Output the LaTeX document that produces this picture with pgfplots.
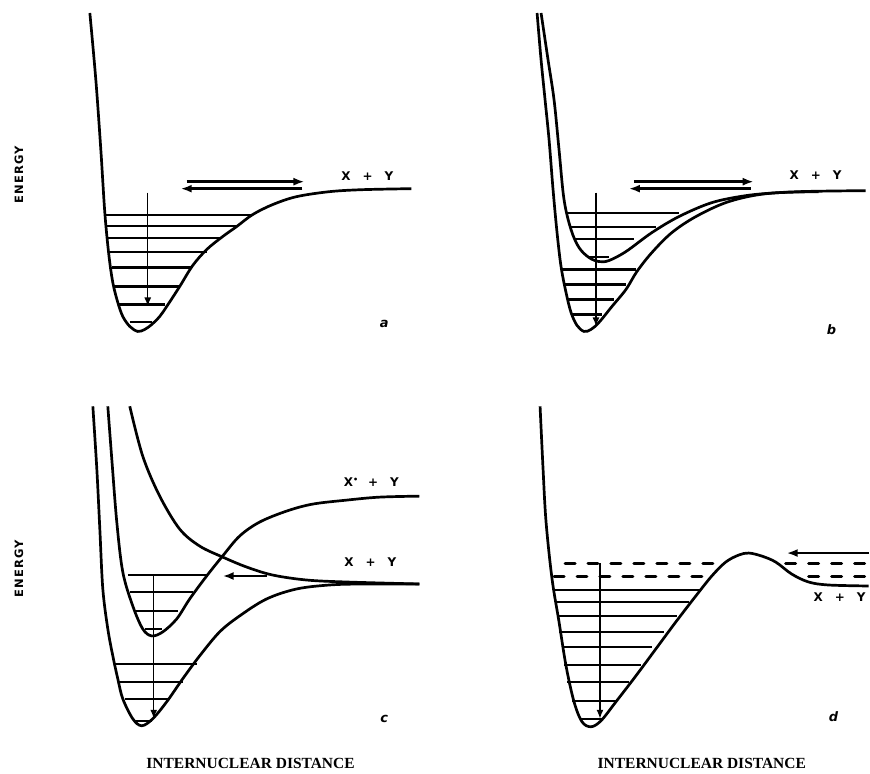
\documentclass[border=0pt]{standalone}
\usepackage{fontspec}
\setmainfont{DejaVu Sans}
\newfontfamily\serifb{Liberation Serif}
\usepackage{pgfplots}
\pgfplotsset{compat=1.18}
\usetikzlibrary{arrows.meta}
\tikzset{
  lab/.style={font=\bfseries\fontsize{12}{14}\selectfont},
  pan/.style={font=\bfseries\itshape\fontsize{13}{15}\selectfont},
  etitle/.style={rotate=90, font=\bfseries\fontsize{11.5}{13}\selectfont\addfontfeature{LetterSpace=10}},
  xtitle/.style={font=\serifb\bfseries\fontsize{15.5}{17}\selectfont},
}
\begin{document}
\begin{tikzpicture}
\begin{axis}[
  x=1pt, y=1pt, xmin=0, xmax=870, ymin=0, ymax=775,
  y dir=reverse, hide axis, clip=false, scale only axis,
  curve/.style={black, line width=2.7pt, smooth, tension=0.55, no marks},
  lev/.style={black, line width=2.1pt, no marks},
  dlev/.style={black, line width=3pt, no marks, line cap=round, dash pattern=on 10pt off 13pt},
  varr/.style={black, line width=1.5pt, no marks, -{Latex[length=9pt,width=7pt]}},
  harr/.style={black, line width=2.4pt, no marks, -{Latex[length=11pt,width=8pt]}},
]
\newcommand{\lev}[3]{\addplot[lev] coordinates {(#2,#1) (#3,#1)};}
\path (axis cs:0,0) rectangle (axis cs:870,775);

% ---------------- panel a ----------------
\addplot[curve] coordinates {(90,13) (96,80) (101,150) (105,213) (109,255) (113,283) (118,303) (123,317) (130,327) (138,332) (145,330) (152,325) (160,317) (167,307) (180,287) (193,266) (207,250) (223,237) (237,227) (253,215) (273,205) (297,197) (330,192) (363,190) (412,189)};
\lev{215}{106}{253}
\lev{226}{107}{237}
\lev{238}{108}{222}
\lev{252}{109}{207}
\lev{268}{112}{192}
\lev{287}{115}{180}
\lev{305}{118}{165}
\lev{323}{130}{152}
\addplot[varr] coordinates {(148,193) (148,307)};
\addplot[harr] coordinates {(187,182) (305,182)};
\addplot[harr] coordinates {(303,189) (181,189)};
\node[lab] at (axis cs:368,176) {X\hspace{1em}+\hspace{1em}Y};
\node[pan] at (axis cs:385,325) {a};

% ---------------- panel b ----------------
\addplot[curve] coordinates {(538,13) (542,60) (546,100) (550,140) (554,190) (558,233) (562,267) (567,293) (572,313) (578,326) (585,332) (592,330) (600,323) (613,307) (627,290) (638,272) (653,253) (673,233) (697,217) (727,203) (760,195) (800,192) (867,191)};
\addplot[curve] coordinates {(542,13) (549,60) (555,100) (560,150) (565,200) (572,230) (580,248) (590,258) (600,262) (610,261) (627,252) (653,233) (680,217) (713,203) (747,196) (780,193) (820,192)};
\lev{213}{568}{680}
\lev{227}{570}{657}
\lev{239}{575}{635}
\lev{257}{588}{610}
\lev{270}{563}{637}
\lev{285}{565}{627}
\lev{300}{568}{615}
\lev{315}{573}{603}
\addplot[varr] coordinates {(597,193) (597,327)};
\addplot[harr] coordinates {(635,182) (755,182)};
\addplot[harr] coordinates {(752,189) (630,189)};
\node[lab] at (axis cs:817,175) {X\hspace{1em}+\hspace{1em}Y};
\node[pan] at (axis cs:833,330) {b};

% ---------------- panel c ----------------
\addplot[curve] coordinates {(93,407) (97,470) (100,530) (103,590) (108,630) (113,657) (118,680) (123,700) (133,720) (142,727) (153,720) (167,703) (183,680) (200,657) (220,633) (240,617) (267,600) (297,590) (330,586) (363,585) (420,585)};
\addplot[curve] coordinates {(108,407) (112,460) (117,523) (123,573) (133,607) (143,630) (152,637) (163,633) (177,620) (190,600) (207,577) (223,557) (240,537) (260,523) (287,512) (313,505) (347,501) (380,498) (420,497)};
\addplot[curve] coordinates {(130,407) (143,457) (160,497) (180,530) (200,547) (223,558) (247,568) (273,576) (307,581) (347,583) (420,585)};
\lev{576}{128}{207}
\lev{593}{130}{193}
\lev{612}{135}{178}
\lev{630}{145}{162}
\lev{665}{115}{197}
\lev{683}{118}{183}
\lev{700}{125}{170}
\lev{722}{135}{152}
\addplot[varr] coordinates {(154,576) (154,720)};
\addplot[harr] coordinates {(267,577) (223,577)};
\node[lab] at (axis cs:372,483) {X\textsuperscript{\textbullet}\hspace{0.8em}+\hspace{1em}Y};
\node[lab] at (axis cs:371,563) {X\hspace{1em}+\hspace{1em}Y};
\node[pan] at (axis cs:385,720) {c};

% ---------------- panel d ----------------
\addplot[curve] coordinates {(541,407) (544,470) (547,523) (553,580) (560,623) (567,667) (575,703) (583,723) (592,728) (602,722) (617,703) (637,677) (657,650) (677,623) (697,597) (713,577) (727,563) (740,556) (750,554) (763,557) (777,563) (793,575) (810,583) (830,586) (870,587)};
\addplot[dlev] coordinates {(566,564) (722,564)};
\addplot[dlev] coordinates {(787,564) (870,564)};
\addplot[dlev] coordinates {(555,577) (710,577)};
\addplot[dlev] coordinates {(810,577) (870,577)};
\lev{591}{555}{702}
\lev{603}{557}{690}
\lev{617}{558}{678}
\lev{633}{560}{665}
\lev{648}{563}{653}
\lev{666}{565}{642}
\lev{683}{568}{630}
\lev{702}{573}{618}
\lev{720}{582}{603}
\addplot[varr] coordinates {(601,564) (601,720)};
\addplot[harr] coordinates {(870,554) (788,554)};
\node[lab] at (axis cs:841,598) {X\hspace{1em}+\hspace{1em}Y};
\node[pan] at (axis cs:835,718) {d};

% ---------------- axis titles ----------------
\node[etitle] at (axis cs:19,175) {ENERGY};
\node[etitle] at (axis cs:19,570) {ENERGY};
\node[xtitle] at (axis cs:251,765) {INTERNUCLEAR DISTANCE};
\node[xtitle] at (axis cs:703,765) {INTERNUCLEAR DISTANCE};
\end{axis}
\end{tikzpicture}
\end{document}
